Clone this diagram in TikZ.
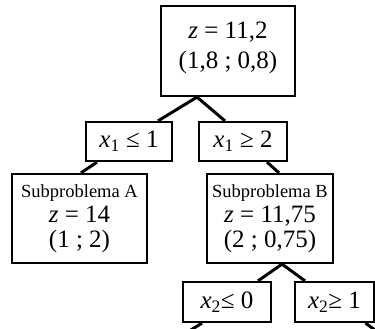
\documentclass[tikz,border=0pt]{standalone}
\usepackage{fontspec}
\setmainfont{Liberation Serif}
\usepackage{tikz}

\begin{document}
\begin{tikzpicture}[x=1pt,y=-1pt,
  box/.style={draw,line width=2.2pt,inner sep=0pt,align=center,
    font=\fontsize{25}{25}\selectfont},
  branch/.style={line width=3pt}]
\clip (0,0) rectangle (375,329);
\node[box,minimum width=134pt,minimum height=90pt] (root) at (228,51)
  {\textit{z} = 11,2\\[5pt](1,8 ; 0,8)\\[-13pt]\mbox{}};
\node[box,minimum width=86pt,minimum height=39pt] (le1) at (129,141.5)
  {\textit{x}\textsubscript{1} ≤ 1};
\node[box,minimum width=88pt,minimum height=39pt] (ge2) at (243,141.5)
  {\textit{x}\textsubscript{1} ≥ 2};
\node[box,minimum width=135pt,minimum height=89pt] (subA) at (79.5,218.5)
  {{\fontsize{18.5}{25}\selectfont Subproblema A}\\\textit{z} = 14\\(1 ; 2)};
\node[box,minimum width=126pt,minimum height=89pt] (subB) at (270,218.5)
  {{\fontsize{18.5}{25}\selectfont Subproblema B}\\\textit{z} = 11,75\\(2 ; 0,75)};
\node[box,minimum width=88pt,minimum height=40pt] (le0) at (227,302)
  {\textit{x}\textsubscript{2}≤ 0};
\node[box,minimum width=79pt,minimum height=40pt] (ge1) at (334.5,302)
  {\textit{x}\textsubscript{2}≥ 1};
\coordinate (le0end) at (186,333);
\coordinate (ge1end) at (379,333);
\draw[branch] ([xshift=29pt]le1.north)--([xshift=-31pt]root.south)--([xshift=-18pt]ge2.north);
\draw[branch] ([xshift=-32pt]le1.south)--([xshift=1.5pt]subA.north);
\draw[branch] ([xshift=24pt]ge2.south)--([xshift=9pt]subB.north);
\draw[branch] ([xshift=31pt]le0.north)--([xshift=12pt]subB.south)--([xshift=-29.5pt]ge1.north);
\draw[branch] ([xshift=-25pt]le0.south)--(le0end);
\draw[branch] ([xshift=31pt]ge1.south)--(ge1end);
\end{tikzpicture}
\end{document}
